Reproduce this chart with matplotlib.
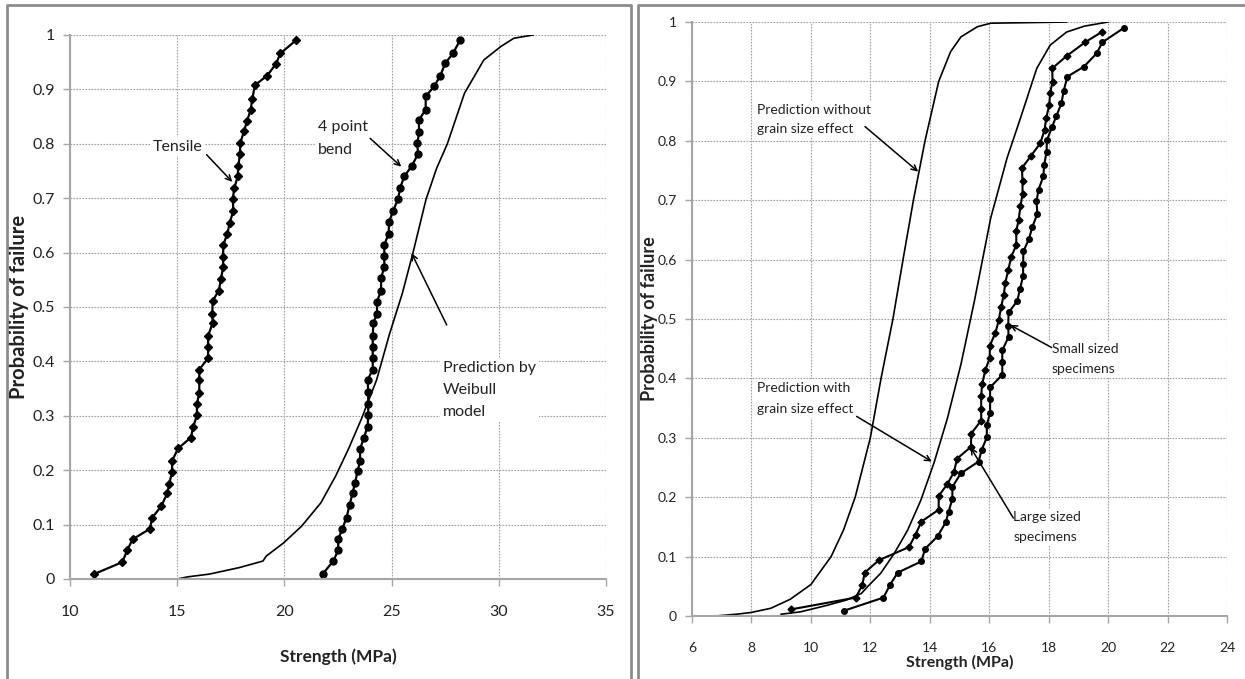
import matplotlib
matplotlib.use("Agg")
import matplotlib.pyplot as plt
from matplotlib.lines import Line2D

plt.rcParams['font.family'] = ['Lato', 'DejaVu Sans']

# ---- left panel data: tensile, 4 point bend, Weibull prediction ----
tensile_x = [11.12, 12.44, 12.67, 12.92, 13.72, 13.84, 14.26, 14.54, 14.63, 14.76,
             14.76, 15.04, 15.64, 15.75, 15.92, 15.92, 16.03, 16.03, 16.03, 16.44,
             16.44, 16.44, 16.65, 16.64, 16.65, 16.94, 17.04, 17.14, 17.14, 17.15,
             17.34, 17.45, 17.62, 17.59, 17.66, 17.82, 17.85, 17.93, 17.94, 18.12,
             18.26, 18.43, 18.50, 18.63, 19.19, 19.61, 19.81, 20.53]
tensile_p = [0.009, 0.031, 0.053, 0.073, 0.092, 0.113, 0.134, 0.158, 0.175, 0.197,
             0.217, 0.240, 0.260, 0.280, 0.301, 0.322, 0.342, 0.365, 0.385, 0.406,
             0.427, 0.447, 0.470, 0.488, 0.511, 0.530, 0.551, 0.573, 0.592, 0.614,
             0.635, 0.655, 0.677, 0.698, 0.718, 0.740, 0.760, 0.781, 0.801, 0.824,
             0.842, 0.863, 0.883, 0.908, 0.925, 0.947, 0.966, 0.990]

bend_x = [21.78, 22.28, 22.51, 22.51, 22.70, 22.90, 23.04, 23.18, 23.29, 23.42,
          23.53, 23.53, 23.71, 23.88, 23.91, 23.91, 23.91, 23.88, 24.12, 24.12,
          24.12, 24.12, 24.15, 24.32, 24.32, 24.51, 24.51, 24.66, 24.66, 24.66,
          24.86, 24.88, 25.07, 25.30, 25.40, 25.59, 25.95, 26.23, 26.20, 26.29,
          26.26, 26.59, 26.59, 26.99, 27.27, 27.50, 27.86, 28.20]
bend_p = [0.009, 0.033, 0.053, 0.073, 0.092, 0.113, 0.136, 0.158, 0.176, 0.199,
          0.217, 0.239, 0.260, 0.280, 0.301, 0.322, 0.344, 0.366, 0.385, 0.406,
          0.427, 0.447, 0.470, 0.488, 0.510, 0.530, 0.553, 0.574, 0.594, 0.614,
          0.635, 0.656, 0.677, 0.698, 0.719, 0.740, 0.760, 0.781, 0.801, 0.822,
          0.843, 0.863, 0.887, 0.906, 0.925, 0.948, 0.966, 0.991]

weib_x = [15.0, 15.5, 16.5, 17.9, 19.0, 19.15, 19.95, 20.8, 21.7, 22.4, 23.0, 23.6,
          24.3, 24.9, 25.5, 26.0, 26.6, 27.1, 27.6, 28.4, 29.3, 30.1, 30.7, 31.6]
weib_p = [0.0, 0.004, 0.009, 0.021, 0.033, 0.042, 0.066, 0.097, 0.14, 0.19, 0.24, 0.295,
          0.366, 0.45, 0.525, 0.6, 0.697, 0.755, 0.80, 0.893, 0.954, 0.979, 0.994, 1.0]

# ---- right panel data ----
pred_no_x = [6.8, 7.5, 8.0, 8.65, 9.3, 10.0, 10.68, 11.1, 11.49, 12.0, 12.36, 12.76,
             13.1, 13.45, 13.84, 14.3, 14.7, 15.05, 15.6, 16.05, 18.6]
pred_no_p = [0.0, 0.003, 0.006, 0.013, 0.028, 0.053, 0.1, 0.145, 0.2, 0.3, 0.4, 0.5,
             0.6, 0.7, 0.8, 0.9, 0.95, 0.975, 0.992, 0.998, 1.0]

pred_gs_x = [9.0, 9.65, 10.55, 11.2, 11.7, 11.9, 12.35, 12.8, 13.25, 13.7, 14.15, 14.6,
             15.05, 15.5, 16.05, 16.6, 17.05, 17.6, 18.05, 18.6, 19.2, 20.0]
pred_gs_p = [0.003, 0.007, 0.018, 0.027, 0.038, 0.049, 0.072, 0.105, 0.144, 0.195, 0.259, 0.334,
             0.424, 0.53, 0.67, 0.771, 0.838, 0.922, 0.961, 0.983, 0.993, 1.0]

large_x = [9.32, 11.51, 11.73, 11.81, 12.29, 13.30, 13.52, 13.72, 14.30, 14.30,
           14.59, 14.81, 14.92, 15.39, 15.39, 15.73, 15.73, 15.73, 15.76, 15.87,
           16.02, 16.02, 16.21, 16.32, 16.40, 16.49, 16.54, 16.64, 16.74, 16.91,
           16.91, 16.99, 17.05, 17.12, 17.12, 17.10, 17.41, 17.72, 17.86, 17.92,
           18.02, 18.05, 18.13, 18.12, 18.61, 19.23, 19.81]
large_p = [0.011, 0.031, 0.052, 0.073, 0.094, 0.116, 0.137, 0.159, 0.179, 0.202,
           0.222, 0.242, 0.265, 0.285, 0.307, 0.329, 0.349, 0.371, 0.390, 0.414,
           0.435, 0.455, 0.477, 0.498, 0.520, 0.541, 0.561, 0.582, 0.605, 0.624,
           0.648, 0.667, 0.690, 0.710, 0.732, 0.754, 0.775, 0.796, 0.818, 0.839,
           0.860, 0.881, 0.899, 0.922, 0.943, 0.966, 0.984]

# small sized specimens = same points as the tensile series
small_x = tensile_x
small_p = tensile_p

W, H = 1245, 679
fig = plt.figure(figsize=(W / 100, H / 100), dpi=100)


def px(x0, y0, w, h):
    # pixel box (top-left origin) -> figure fraction
    return [x0 / W, 1 - (y0 + h) / H, w / W, h / H]


# panel frames
for xs, ys in [([7, 7, 631, 631], [H, 5, 5, H]), ([638, 638, W + 5], [H, 5, 5])]:
    fig.add_artist(Line2D([x / W for x in xs], [1 - y / H for y in ys],
                          color='#8c8c8c', lw=2, transform=fig.transFigure))

grid_kw = dict(color='#a0a0a0', linestyle=(0, (1.5, 1.2)), linewidth=0.8)
arr_kw = dict(arrowstyle='->', color='black', lw=1.1, shrinkA=0, shrinkB=0)


def tkw(size):
    return dict(fontsize=size, color='#222222',
                bbox=dict(facecolor='white', edgecolor='none', pad=2))


def style(ax, xt, size):
    ax.set_ylim(0, 1)
    ax.set_xlim(xt[0], xt[-1])
    ax.set_xticks(xt)
    ax.set_yticks([i / 10 for i in range(11)])
    ax.set_yticklabels(['0', '0.1', '0.2', '0.3', '0.4', '0.5', '0.6', '0.7', '0.8', '0.9', '1'])
    for s in ['top', 'right']:
        ax.spines[s].set_visible(False)
    for s in ['left', 'bottom']:
        ax.spines[s].set_color('#a6a6a6')
        ax.spines[s].set_linewidth(1.5)
    ax.tick_params(axis='both', colors='#a6a6a6', labelcolor='#222222', labelsize=size,
                   length=5, width=1)
    ax.tick_params(axis='x', pad=14)
    ax.tick_params(axis='y', pad=6)
    ax.grid(True, **grid_kw)
    ax.set_axisbelow(True)


# ---------- left panel ----------
ax1 = fig.add_axes(px(70, 35, 536, 544))
style(ax1, [10, 15, 20, 25, 30, 35], 11.5)
ax1.plot(weib_x, weib_p, color='black', lw=1.2)
ax1.plot(tensile_x, tensile_p, color='black', lw=1.6, marker='D', ms=4.5)
ax1.plot(bend_x, bend_p, color='black', lw=1.6, marker='o', ms=5)

ax1.text(15.0, 0.795, 'Tensile', ha='center', va='center', **tkw(11.5))
ax1.text(21.57, 0.81, '4 point\nbend', ha='left', va='center', linespacing=1.85, **tkw(11.5))
ax1.text(27.4, 0.347, 'Prediction by\nWeibull\nmodel', ha='left', va='center',
         linespacing=1.75, **tkw(11.5))
ax1.annotate('', xy=(17.57, 0.73), xytext=(16.37, 0.78), arrowprops=arr_kw)
ax1.annotate('', xy=(25.45, 0.758), xytext=(24.0, 0.81), arrowprops=arr_kw)
ax1.annotate('', xy=(25.93, 0.599), xytext=(27.57, 0.467), arrowprops=arr_kw)

ax1.set_xlabel('Strength (MPa)', fontsize=12.5, fontweight='bold', color='#222222')
ax1.xaxis.set_label_coords(0.5, -0.128)
ax1.set_ylabel('Probability of failure', fontsize=14.5, fontweight='bold', color='#222222')
ax1.yaxis.set_label_coords(-0.0765, 0.5)

# ---------- right panel ----------
ax2 = fig.add_axes(px(692, 22, 535, 594))
style(ax2, [6, 8, 10, 12, 14, 16, 18, 20, 22, 24], 10)
ax2.plot(pred_no_x, pred_no_p, color='black', lw=1.2)
ax2.plot(pred_gs_x, pred_gs_p, color='black', lw=1.2)
ax2.plot(large_x, large_p, color='black', lw=1.5, marker='D', ms=3.5)
ax2.plot(small_x, small_p, color='black', lw=1.5, marker='o', ms=4)

ax2.text(8.2, 0.836, 'Prediction without\ngrain size effect', ha='left', va='center',
         linespacing=1.7, **tkw(10))
ax2.text(8.18, 0.366, 'Prediction with\ngrain size effect', ha='left', va='center',
         linespacing=1.9, **tkw(10))
ax2.text(18.1, 0.432, 'Small sized\nspecimens', ha='left', va='center',
         linespacing=1.8, **tkw(10))
ax2.text(16.81, 0.149, 'Large sized\nspecimens', ha='left', va='center',
         linespacing=1.8, **tkw(10))
ax2.annotate('', xy=(13.61, 0.748), xytext=(11.82, 0.824), arrowprops=arr_kw)
ax2.annotate('', xy=(14.07, 0.26), xytext=(11.54, 0.336), arrowprops=arr_kw)
ax2.annotate('', xy=(16.7, 0.49), xytext=(18.1, 0.452), arrowprops=arr_kw)
ax2.annotate('', xy=(15.37, 0.284), xytext=(16.81, 0.165), arrowprops=arr_kw)

ax2.set_xlabel('Strength (MPa)', fontsize=11.5, fontweight='bold', color='#222222')
ax2.xaxis.set_label_coords(0.5, -0.066)
ax2.set_ylabel('Probability of failure', fontsize=13, fontweight='bold', color='#222222')
ax2.yaxis.set_label_coords(-0.0636, 0.5)

fig.savefig('out.png', dpi=100)
